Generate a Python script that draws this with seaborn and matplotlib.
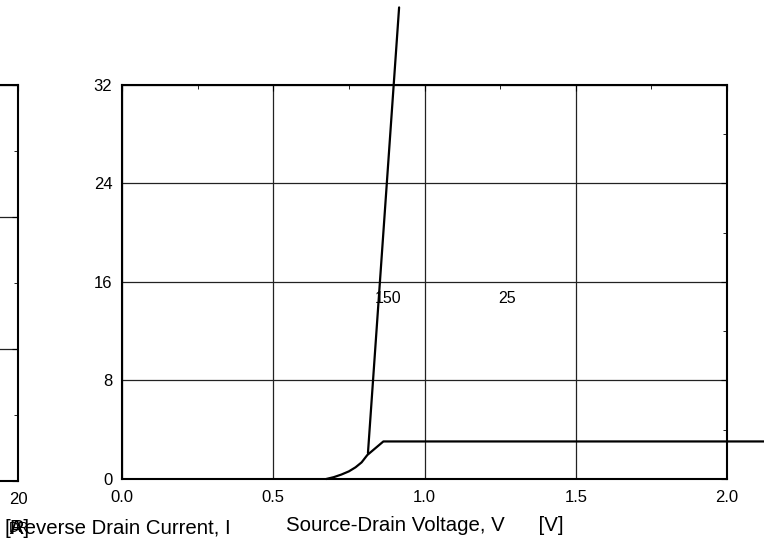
import numpy as np
import pandas as pd
import matplotlib
matplotlib.use('Agg')
import matplotlib.pyplot as plt
import seaborn as sns
from matplotlib.ticker import MultipleLocator

# curves (V_SD in volts, I_DR in amps)
v_25 = [0.675, 0.70, 0.725, 0.75, 0.772, 0.792, 0.811, 0.864, 2.15]
i_25 = [0.0, 0.15, 0.36, 0.62, 0.95, 1.35, 1.95, 3.05, 3.05]
v_150 = [0.813, 0.916]
i_150 = [2.1, 38.3]

x_ticks = [0.0, 0.5, 1.0, 1.5, 2.0]
y_ticks = [0, 8, 16, 24, 32]
curve_labels = ['150', '25']

sns.set_style('white', {'text.color': 'black', 'axes.labelcolor': 'black',
                        'xtick.color': 'black', 'ytick.color': 'black'})
plt.rcParams['font.family'] = ['Liberation Sans', 'DejaVu Sans']

df = pd.concat([
    pd.DataFrame({'vsd': v_25, 'idr': i_25, 'temp': '25'}),
    pd.DataFrame({'vsd': v_150, 'idr': i_150, 'temp': '150'}),
])

fig = plt.figure(figsize=(7.64, 5.41), dpi=100)

# left panel, mostly cut off the page
ax0 = fig.add_axes([-0.7683, 0.1109, 0.7919, 0.732])
ax0.set_xlim(0, 20)
ax0.set_ylim(0, 3)
ax0.set_xticks([20])
ax0.set_yticks([0, 1, 2, 3])
ax0.yaxis.set_minor_locator(MultipleLocator(0.5))
ax0.set_yticklabels([])
ax0.grid(True, axis='y', color='#222222', lw=0.9)
ax0.tick_params(which='both', direction='in', top=True, right=True, labelsize=12, pad=8)
ax0.tick_params(which='major', length=4)
ax0.tick_params(which='minor', length=3)
for s in ax0.spines.values():
    s.set_linewidth(1.5)
    s.set_color('black')

# main panel
ax = fig.add_axes([0.1597, 0.1146, 0.7919, 0.7283])
sns.lineplot(data=df, x='vsd', y='idr', hue='temp', units='temp', estimator=None,
             sort=False, palette={'25': 'black', '150': 'black'}, legend=False,
             lw=1.6, clip_on=False, ax=ax)
ax.set_xlim(0, 2.0)
ax.set_ylim(0, 32)
ax.set_xticks(x_ticks)
ax.set_xticklabels([f'{t:.1f}' for t in x_ticks])
ax.set_yticks(y_ticks)
ax.xaxis.set_minor_locator(MultipleLocator(0.25))
ax.yaxis.set_minor_locator(MultipleLocator(4))
ax.grid(True, which='major', color='#222222', lw=0.9)
ax.tick_params(which='both', direction='in', top=True, right=True, labelsize=12)
ax.tick_params(axis='x', pad=8)
ax.tick_params(axis='y', pad=7)
ax.tick_params(which='major', length=4)
ax.tick_params(which='minor', length=3)
for s in ax.spines.values():
    s.set_linewidth(1.5)
    s.set_color('black')

ax.text(0.879, 14.7, curve_labels[0], fontsize=11.5, ha='center', va='center')
ax.text(1.273, 14.7, curve_labels[1], fontsize=11.5, ha='center', va='center')

ax.set_xlabel('Source-Drain Voltage, V      [V]', fontsize=14.7, labelpad=8)
ax.set_ylabel('')

# y label of the chart lands flat at the bottom left
fig.text(0.013, 0.024, 'Reverse Drain Current, I', fontsize=14.7, ha='left', va='center')
fig.text(0.006, 0.024, '[A]', fontsize=14.7, ha='left', va='center')
fig.text(0.012, 0.024, 'DR', fontsize=10, ha='left', va='center')

fig.savefig('out.png', dpi=100)
